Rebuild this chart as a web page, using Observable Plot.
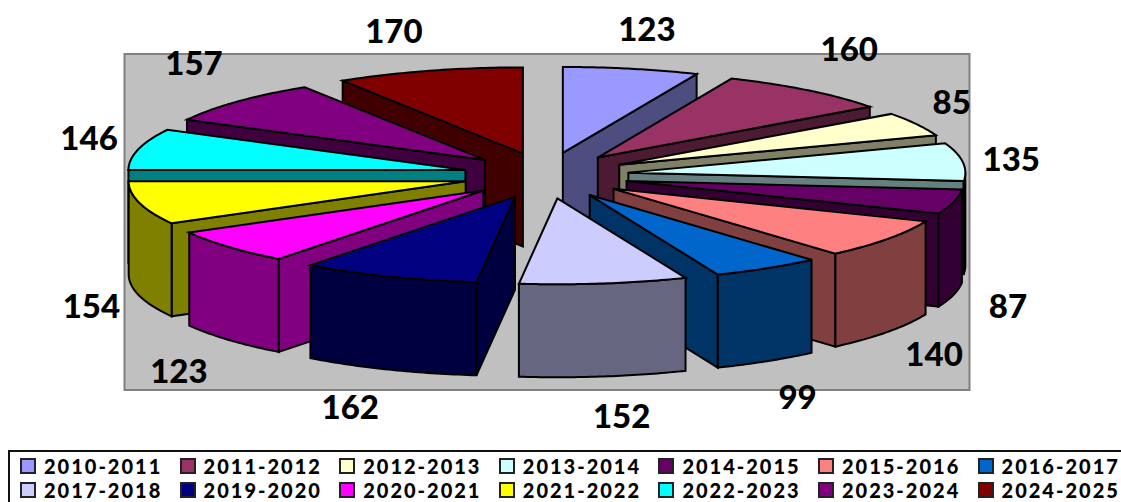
<!DOCTYPE html>
<html>
<head>
<meta charset="utf-8">
<script src="https://cdn.jsdelivr.net/npm/d3@7"></script>
<script src="https://cdn.jsdelivr.net/npm/@observablehq/plot@0.6"></script>
<style>
html,body{margin:0;padding:0;background:#fff;overflow:hidden;width:1121px;height:502px}
svg{display:block}
#legend{position:absolute;left:8px;top:450px;width:1200px;height:60px;border:2px solid #111;box-sizing:border-box;
  font:900 20px Lato,sans-serif;color:#000;display:grid;grid-template-columns:repeat(7,159.6px);grid-auto-rows:24px;padding:2px 0 0 10px;letter-spacing:2px}
#legend div{display:flex;align-items:center;white-space:nowrap;line-height:24px}
#legend i{display:inline-block;width:12px;height:12px;border:2px solid #222;margin-right:8px;flex:none}
</style>
</head>
<body>
<div id="chart"></div>
<div id="legend"></div>
<script>
const seasons = ["2010-2011","2011-2012","2012-2013","2013-2014","2014-2015","2015-2016","2016-2017","2017-2018","2019-2020","2020-2021","2021-2022","2022-2023","2023-2024","2024-2025"];
const counts = [123,160,85,135,87,140,99,152,162,123,154,146,157,170];
const colors = ["#9999FF","#993366","#FFFFCC","#CCFFFF","#660066","#FF8080","#0066CC","#CCCCFF","#000080","#FF00FF","#FFFF00","#00FFFF","#800080","#800000"];
const labelNudgeX = [4,5,-16,-9,-2,-1,0,10,-17,-6,8,7,-1,-19];
const labelNudgeY = [2,-8,-1,4,3,0,2,0,1,6,1,0,-9,1];

// pie layout constants
const W = 1121, H = 448;
const cx = 545.5, cy = 175, RX = 337, RY = 86, depth = 93, explodeX = 83, explodeY = 23;

const arcs = d3.pie().sort(null).value(d => d)(counts);
const slices = arcs.map((a, i) => {
  const mid = (a.startAngle + a.endAngle) / 2;
  return {i, a0: a.startAngle, a1: a.endAngle, mid,
    ax: cx + explodeX * Math.sin(mid), ay: cy - explodeY * Math.cos(mid), value: counts[i], color: colors[i]};
});
const shade = c => { const r = d3.rgb(c); return d3.rgb(r.r/2, r.g/2, r.b/2).formatHex(); };
const rim = (s, t, z = 0) => [s.ax + RX * Math.sin(t), s.ay - RY * Math.cos(t) + z];
const arcAngles = (a0, a1) => d3.range(0, 41).map(k => a0 + (a1 - a0) * k / 40);

const faces = [];
let fid = 0;
const pushFace = (pts, fill) => { const id = fid++; [...pts, pts[0]].forEach(([x, y]) => faces.push({id, x, y, fill})); };

[...slices].sort((p, q) => Math.cos(q.mid) - Math.cos(p.mid)).forEach(s => {
  const wall = shade(s.color);
  const apex = [s.ax, s.ay], apexB = [s.ax, s.ay + depth];
  if (Math.sin(s.a0) < 0) pushFace([apex, rim(s, s.a0), rim(s, s.a0, depth), apexB], wall);
  if (Math.sin(s.a1) > 0) pushFace([apex, rim(s, s.a1), rim(s, s.a1, depth), apexB], wall);
  const f0 = Math.max(s.a0, Math.PI / 2), f1 = Math.min(s.a1, Math.PI * 1.5);
  if (f1 > f0) {
    const ts = arcAngles(f0, f1);
    pushFace([...ts.map(t => rim(s, t)), ...ts.slice().reverse().map(t => rim(s, t, depth))], wall);
  }
  pushFace([apex, ...arcAngles(s.a0, s.a1).map(t => rim(s, t))], s.color);
});

const labels = slices.map(s => {
  const c = Math.cos(s.mid);
  return {
    text: String(s.value),
    x: cx + 478 * Math.sin(s.mid) + labelNudgeX[s.i],
    y: (c > 0 ? cy - 150 * c : cy + 93 + 150 * -c) + labelNudgeY[s.i]
  };
});

const chart = Plot.plot({
  width: W, height: H,
  margin: 0,
  x: {domain: [0, W], range: [0, W], axis: null},
  y: {domain: [0, H], range: [0, H], axis: null},
  marks: [
    Plot.rect([{x1: 124.5, x2: 969.5, y1: 54, y2: 390}], {x1: "x1", x2: "x2", y1: "y1", y2: "y2", fill: "#C0C0C0", stroke: "#808080", strokeWidth: 2}),
    Plot.line(faces, {x: "x", y: "y", z: "id", fill: "fill", stroke: "#000", strokeWidth: 2, strokeLinejoin: "miter", strokeMiterlimit: 4}),
    Plot.text(labels, {x: "x", y: "y", text: "text", fontFamily: "Lato, sans-serif", fontWeight: 900, fontSize: 33, fill: "#000", textAnchor: "middle", lineAnchor: "middle"})
  ]
});
document.getElementById("chart").appendChild(chart);

const legend = document.getElementById("legend");
seasons.forEach((s, i) => {
  const d = document.createElement("div");
  const sw = document.createElement("i");
  sw.style.background = colors[i];
  d.appendChild(sw);
  d.appendChild(document.createTextNode(s));
  legend.appendChild(d);
});
</script>
</body>
</html>
